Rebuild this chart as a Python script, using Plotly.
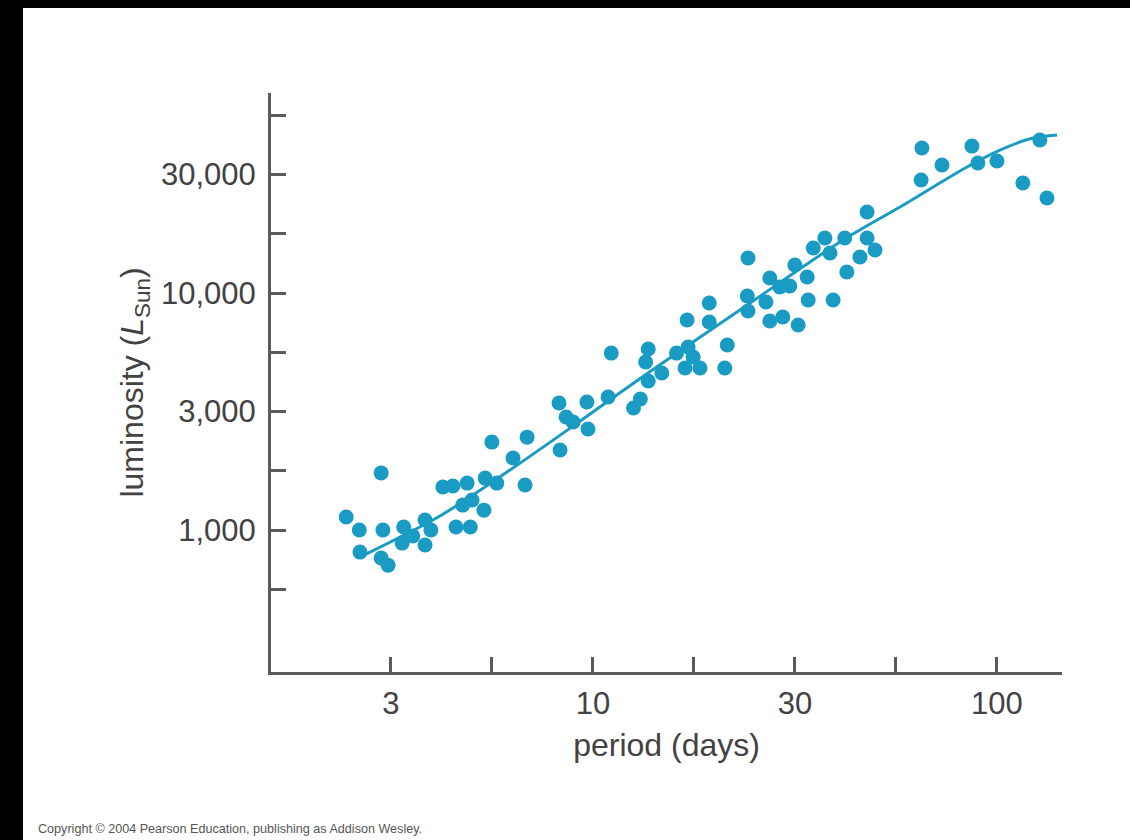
import plotly.graph_objects as go

# Cepheid variables: pulsation period (days) and luminosity (solar units)
period_days = [
    2.45, 2.64, 2.99, 2.65, 3.02, 2.99, 3.11, 3.40, 3.37, 3.58,
    3.84, 3.84, 3.97, 4.25, 4.50, 4.88, 4.58, 4.97, 4.76, 5.02,
    5.37, 5.41, 5.78, 5.62, 6.34, 6.79, 6.87, 8.24, 8.29, 8.58,
    8.93, 9.66, 9.72, 10.9, 11.1, 12.6, 13.1, 13.5, 13.7, 13.7,
    14.8, 16.1, 17.1, 17.2, 16.9, 17.7, 18.4, 19.4, 19.4, 21.5,
    21.2, 24.2, 24.1, 24.2, 26.8, 27.4, 27.4, 29.5, 32.2, 29.0,
    30.7, 31.6, 33.9, 34.1, 35.1, 37.5, 38.6, 39.3, 42.0, 42.5,
    45.8, 47.7, 47.7, 49.9, 65.2, 64.9, 73.1, 86.7, 89.7, 100.0,
    115.9, 127.7, 133.0,
]
luminosity_sun = [
    1135, 1000, 1742, 807, 1000, 762, 711, 1030, 881, 944,
    1102, 865, 1000, 1518, 1535, 1578, 1030, 1030, 1274, 1339,
    1213, 1656, 1578, 2350, 2013, 1549, 2466, 3436, 2176, 2999,
    2856, 3467, 2667, 3641, 5580, 3272, 3570, 5117, 5805, 4254,
    4595, 5580, 7691, 5916, 4827, 5370, 4827, 9078, 7545, 6034,
    4827, 14060, 9712, 8395, 9162, 11570, 7617, 7920, 7328, 10600,
    10700, 13130, 11680, 9343, 15490, 17060, 14750, 9343, 17060, 12260,
    14190, 21970, 17060, 15190, 40900, 29980, 34670, 41690, 35370, 36060,
    29110, 44220, 25180,
]

# Period-luminosity relation (fitted curve)
fit_period = [2.68, 4.18, 6.23, 9.45, 13.8, 24.5, 41.6, 57.5, 84.3, 101.7, 122.8, 140.8]
fit_luminosity = [776, 1146, 1791, 2939, 4645, 9077, 16740, 23070, 34030, 40110, 45080, 46420]

# Labelled ticks every half decade, unlabelled ticks halfway between them
x_tick_vals = [10 ** 0.5, 10 ** 1.0, 10 ** 1.5, 10 ** 2.0]
x_tick_text = ["3", "10", "30", "100"]
x_minor_vals = [10 ** 0.75, 10 ** 1.25, 10 ** 1.75]
y_tick_vals = [10 ** 3.0, 10 ** 3.5, 10 ** 4.0, 10 ** 4.5]
y_tick_text = ["1,000", "3,000", "10,000", "30,000"]
y_minor_vals = [10 ** 2.75, 10 ** 3.25, 10 ** 3.75, 10 ** 4.25, 10 ** 4.75]

teal = "#1a9bc3"
axis_grey = "#5a5a5a"
text_grey = "#424242"
font_family = "Liberation Sans, Arial, Helvetica, sans-serif"

fig = go.Figure()

fig.add_trace(go.Scatter(
    x=fit_period, y=fit_luminosity, mode="lines",
    line=dict(color=teal, width=3, shape="spline", smoothing=0.8),
    hoverinfo="skip", showlegend=False,
))

fig.add_trace(go.Scatter(
    x=period_days, y=luminosity_sun, mode="markers",
    marker=dict(color=teal, size=15, line=dict(width=0)),
    showlegend=False,
))

# Dark frame strips along the left and top edges
frame = dict(type="rect", xref="paper", yref="paper", fillcolor="black",
             line=dict(width=0), layer="above")
fig.add_shape(**frame, x0=-0.36, x1=-0.3135, y0=-0.31, y1=1.17)
fig.add_shape(**frame, x0=-0.36, x1=1.1, y0=1.1468, y1=1.17)

fig.add_annotation(
    text="Copyright \u00a9 2004 Pearson Education, publishing as Addison Wesley.",
    xref="paper", yref="paper", x=-0.297, y=-0.272, xanchor="left", yanchor="middle",
    showarrow=False, font=dict(family=font_family, size=12.6, color="#555555"),
)

axis_common = dict(
    type="log",
    showline=True, linecolor=axis_grey, linewidth=3,
    ticks="inside", ticklen=15, tickwidth=2.5, tickcolor=axis_grey,
    showgrid=False, zeroline=False, mirror=False,
    tickfont=dict(family=font_family, size=31, color=text_grey),
    title_font=dict(family=font_family, size=32, color=text_grey),
)
minor_common = dict(tickmode="array", ticks="inside", ticklen=15,
                    tickwidth=2.5, tickcolor=axis_grey, showgrid=False)

fig.update_layout(
    width=1130, height=840,
    margin=dict(l=271, r=68, t=93, b=168),
    paper_bgcolor="white", plot_bgcolor="white",
    xaxis=dict(axis_common, range=[0.203, 2.161],
               tickmode="array", tickvals=x_tick_vals, ticktext=x_tick_text,
               minor=dict(minor_common, tickvals=x_minor_vals),
               ticklabelstandoff=2,
               title=dict(text="period (days)", standoff=14)),
    yaxis=dict(axis_common, range=[2.401, 4.844],
               tickmode="array", tickvals=y_tick_vals, ticktext=y_tick_text,
               minor=dict(minor_common, tickvals=y_minor_vals),
               ticklabelstandoff=6,
               title=dict(text="luminosity (<i>L</i><sub>Sun</sub>)", standoff=8)),
)

fig.write_html("out.html")
